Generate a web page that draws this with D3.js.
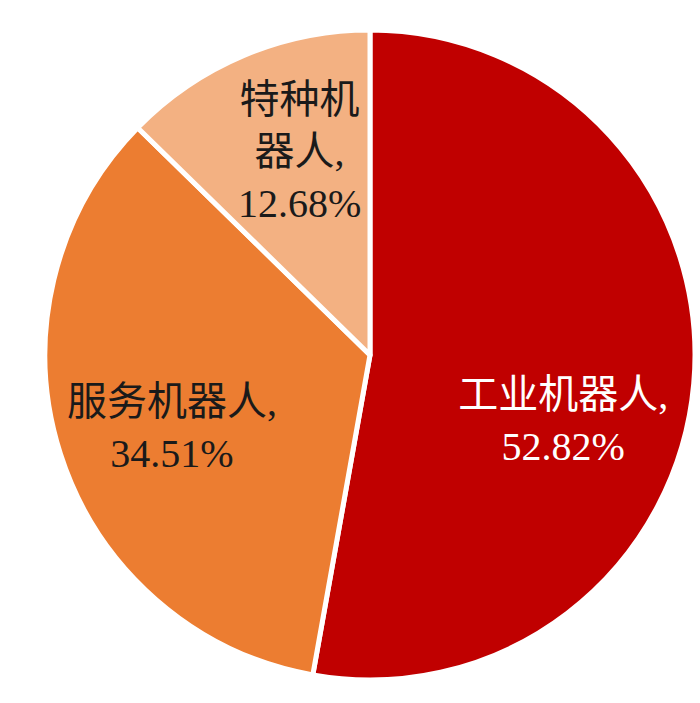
<!DOCTYPE html>
<html lang="zh">
<head>
<meta charset="UTF-8" />
<title>机器人结构</title>
<script src="https://d3js.org/d3.v7.min.js"></script>
<style>
    body { margin: 0; background: #fff; }
    .label { font-family: "Liberation Serif", "Noto Sans CJK SC", serif; font-size: 40px; }
</style>
</head>
<body>
<svg width="700" height="703"></svg>
<script>
    // data
    const categories = ["工业机器人", "服务机器人", "特种机器人"];
    const shares = [52.82, 34.51, 12.68];
    const colors = ["#C00000", "#EC7D31", "#F3B182"];
    const textColors = ["#ffffff", "#1a1a1a", "#1a1a1a"];

    const svg = d3.select("svg"),
        cx = 370, cy = 355,
        radius = 325;

    const g = svg.append("g").attr("transform", "translate(" + cx + "," + cy + ")");

    const rows = categories.map((c, i) => ({ name: c, value: shares[i], color: colors[i], text: textColors[i] }));

    // clockwise from 12 o'clock, in the given order
    const pie = d3.pie().value(d => d.value).sort(null);
    const arc = d3.arc().innerRadius(0).outerRadius(radius);
    const labelArc = d3.arc().innerRadius(210).outerRadius(210);

    // small hand nudges so the labels sit where the original puts them
    const nudge = { "工业机器人": [-16, 46], "服务机器人": [2, 8], "特种机器人": [11, -10] };

    const slices = g.selectAll(".arc")
        .data(pie(rows))
        .enter().append("g")
        .attr("class", "arc");

    slices.append("path")
        .attr("d", arc)
        .attr("fill", d => d.data.color)
        .attr("stroke", "#fff")
        .attr("stroke-width", 5)
        .attr("stroke-linejoin", "round");

    const lineH = 52;
    slices.append("text")
        .attr("class", "label")
        .attr("text-anchor", "middle")
        .attr("fill", d => d.data.text)
        .each(function(d) {
            let lines;
            // narrow slice: wrap the name into 3-character pieces
            if (d.endAngle - d.startAngle < Math.PI / 3) {
                const n = d.data.name;
                lines = [];
                for (let i = 0; i < n.length; i += 3) lines.push(n.slice(i, i + 3));
                lines[lines.length - 1] += ",";
            } else {
                lines = [d.data.name + ","];
            }
            lines.push(d.data.value.toFixed(2) + "%");
            const c = labelArc.centroid(d);
            const off = nudge[d.data.name] || [0, 0];
            const x = c[0] + off[0], y = c[1] + off[1];
            const top = y - (lines.length - 1) * lineH / 2;
            const t = d3.select(this);
            lines.forEach((l, i) => {
                t.append("tspan")
                    .attr("x", x)
                    .attr("y", top + i * lineH)
                    .attr("dy", "0.35em")
                    .text(l);
            });
        });
</script>
</body>
</html>
